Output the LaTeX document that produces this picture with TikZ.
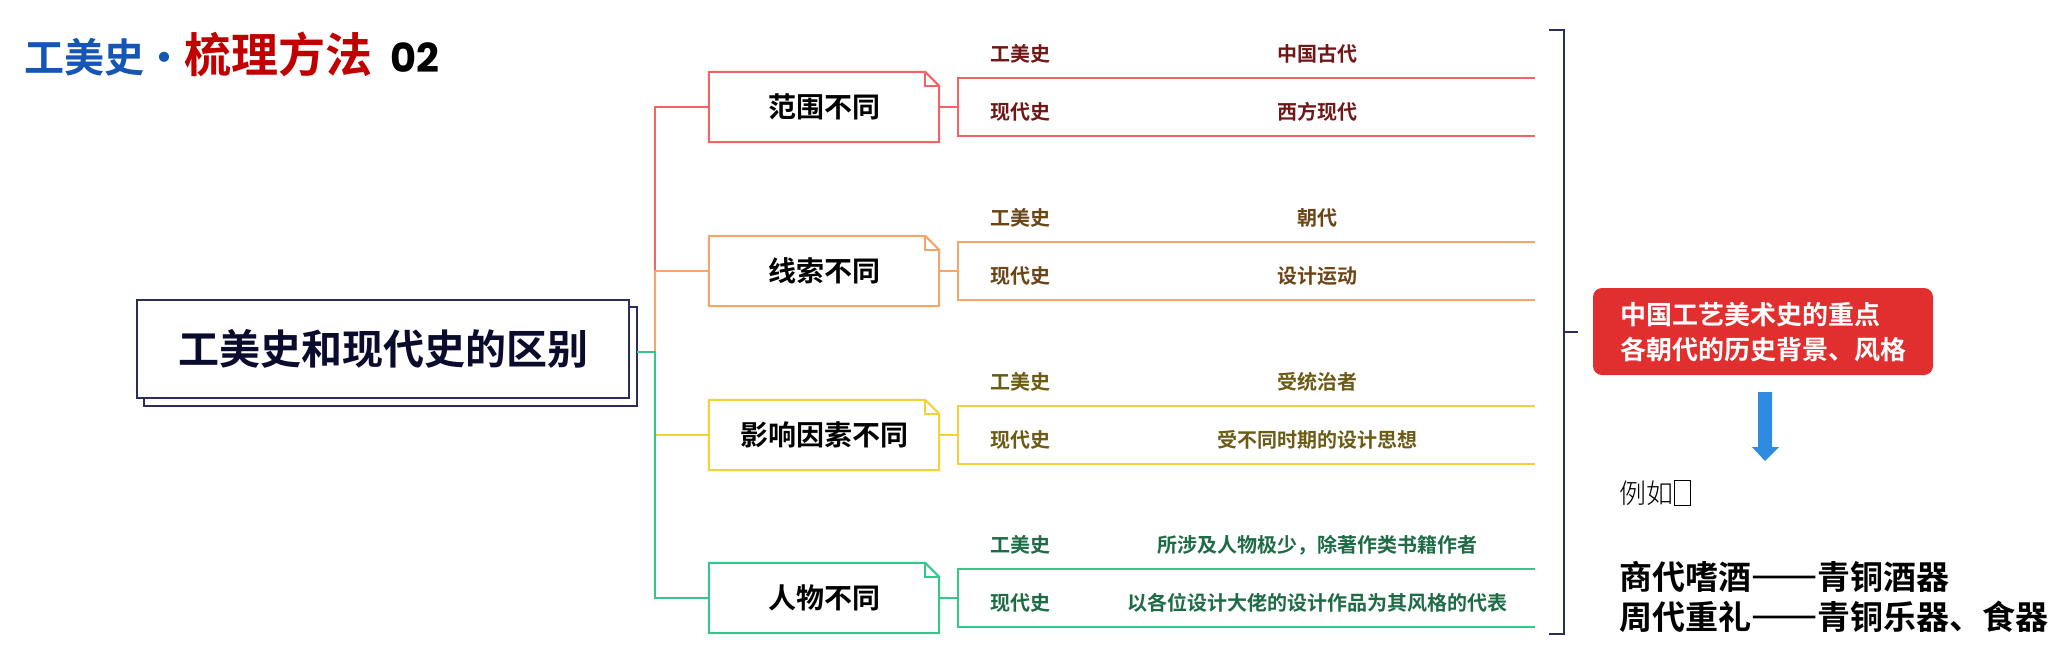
\documentclass[tikz,border=0pt]{standalone}
\usepackage{fontspec}
\setmainfont{Noto Sans CJK SC}[BoldFont={Noto Sans CJK SC Bold}]
\newfontfamily\cjklight{Noto Sans CJK SC Light}
\newfontfamily\numfont{Poppins}
\definecolor{tblue}{HTML}{1556B5}
\definecolor{tred}{HTML}{C00000}
\definecolor{navy}{HTML}{2B2E5C}
\definecolor{rootink}{HTML}{0B0B2E}
\definecolor{cA}{HTML}{F26464}
\definecolor{cB}{HTML}{F5A56A}
\definecolor{cC}{HTML}{F3D13A}
\definecolor{cD}{HTML}{33C78A}
\definecolor{tA}{HTML}{701818}
\definecolor{tB}{HTML}{6B4516}
\definecolor{tC}{HTML}{6B5B14}
\definecolor{tD}{HTML}{1E6B45}
\definecolor{kred}{HTML}{E12E2E}
\definecolor{ablue}{HTML}{2E8BE0}
\newcommand\fwdash{{\addfontfeatures{CharacterWidth=Full,FakeBold=4}——}}
\newcommand\dogear[2]{%
  \draw[#2, line width=2pt] (#1.north west) -- ([xshift=-14pt]#1.north east) -- ([yshift=-14pt]#1.north east) -- (#1.south east) -- (#1.south west) -- cycle;
  \draw[#2, line width=1.5pt] ([xshift=-14pt]#1.north east) -- ([xshift=-14pt,yshift=-14pt]#1.north east) -- ([yshift=-14pt]#1.north east);}
\begin{document}
\begin{tikzpicture}[x=1pt,y=-1pt,
  lvtwo/.style={minimum width=230pt, minimum height=70pt, inner sep=0pt, font=\fontsize{28}{32}\selectfont\bfseries, text=black},
  lab/.style={inner sep=0pt, font=\fontsize{20}{24}\selectfont\bfseries},
  wire/.style={line width=2pt}]
\useasboundingbox (0,0) rectangle (2071,659);

% title
\node[anchor=base west, inner sep=0pt, font=\bfseries] (title) at (24,72)
  {\textcolor{tblue}{\fontsize{40}{48}\selectfont 工美史・}\textcolor{tred}{\fontsize{47}{52}\selectfont 梳理方法}\hspace{18pt}{\numfont\bfseries\fontsize{40}{44}\selectfont 02}};

% root
\draw[navy, line width=2pt, fill=white] (144,307) rectangle (637,406);
\node[draw=navy, line width=2pt, fill=white, minimum width=492pt, minimum height=98pt, inner sep=0pt,
  font=\fontsize{41}{46}\selectfont\bfseries, text=rootink] (root) at (383,349) {工美史和现代史的区别};
\coordinate (rootout) at (637,352);
\coordinate (J) at (655,352);

% level 2 boxes
\node[lvtwo] (b1) at (824,107) {范围不同};
\node[lvtwo] (b2) at (824,271) {线索不同};
\node[lvtwo] (b3) at (824,435) {影响因素不同};
\node[lvtwo] (b4) at (824,598) {人物不同};

% trunk connectors
\draw[wire, cA] (rootout) -- (J) |- (b1.west);
\draw[wire, cB] (rootout) -- (J) |- (b2.west);
\draw[wire, cC] (rootout) -- (J) |- (b3.west);
\draw[wire, cD] (rootout) -- (J) |- (b4.west);

\dogear{b1}{cA}
\dogear{b2}{cB}
\dogear{b3}{cC}
\dogear{b4}{cD}

% level 3 brackets
\coordinate (k1) at (958,107);
\coordinate (k2) at (958,271);
\coordinate (k3) at (958,435);
\coordinate (k4) at (958,598);
\draw[wire, cA] (b1.east) -- (k1);
\draw[wire, cB] (b2.east) -- (k2);
\draw[wire, cC] (b3.east) -- (k3);
\draw[wire, cD] (b4.east) -- (k4);
\draw[wire, cA] (k1) ++(577,-29) -- ++(-577,0) -- ++(0,58) -- ++(577,0);
\draw[wire, cB] (k2) ++(577,-29) -- ++(-577,0) -- ++(0,58) -- ++(577,0);
\draw[wire, cC] (k3) ++(577,-29) -- ++(-577,0) -- ++(0,58) -- ++(577,0);
\draw[wire, cD] (k4) ++(577,-29) -- ++(-577,0) -- ++(0,58) -- ++(577,0);

% labels
\node[lab, text=tA] (g1a) at (1020,54) {工美史};
\node[lab, text=tA] (v1a) at (1317,54) {中国古代};
\node[lab, text=tA] (g1b) at (1020,112) {现代史};
\node[lab, text=tA] (v1b) at (1317,112) {西方现代};
\node[lab, text=tB] (g2a) at (1020,218) {工美史};
\node[lab, text=tB] (v2a) at (1317,218) {朝代};
\node[lab, text=tB] (g2b) at (1020,276) {现代史};
\node[lab, text=tB] (v2b) at (1317,276) {设计运动};
\node[lab, text=tC] (g3a) at (1020,382) {工美史};
\node[lab, text=tC] (v3a) at (1317,382) {受统治者};
\node[lab, text=tC] (g3b) at (1020,440) {现代史};
\node[lab, text=tC] (v3b) at (1317,440) {受不同时期的设计思想};
\node[lab, text=tD] (g4a) at (1020,545) {工美史};
\node[lab, text=tD] (v4a) at (1317,545) {所涉及人物极少，除著作类书籍作者};
\node[lab, text=tD] (g4b) at (1020,603) {现代史};
\node[lab, text=tD] (v4b) at (1317,603) {以各位设计大佬的设计作品为其风格的代表};

% right bracket
\coordinate (rtop) at (1549,30);
\coordinate (rbot) at (1549,634);
\coordinate (rmid) at (1578,332);
\draw[navy, line width=2pt] (rtop) -- (1564,30) -- (1564,634) -- (rbot);
\draw[navy, line width=2pt] (1564,332) -- (rmid);

% key box
\node[fill=kred, rounded corners=9pt, minimum width=340pt, minimum height=87pt, inner sep=0pt] (key) at (1763,331.5) {};
\node[anchor=west, inner sep=0pt, align=left, text=white, font=\fontsize{26}{35}\selectfont\bfseries] (keytxt) at (1620,332.5)
  {中国工艺美术史的重点\\各朝代的历史背景、风格};

% blue arrow
\fill[ablue] (1758,392) -- (1772,392) -- (1772,447) -- (1779,447) -- (1765,461) -- (1752,447) -- (1758,447) -- cycle;

% example
\node[anchor=west, inner sep=0pt, font=\cjklight\fontsize{27}{30}\selectfont] (eg) at (1619,493)
  {例如\hspace{1pt}{\fboxsep=0pt\fboxrule=0.8pt\raisebox{-2pt}{\fbox{\rule{0pt}{24pt}\hspace{15pt}}}}};
\node[anchor=west, inner sep=0pt, align=left, font=\fontsize{33}{40}\selectfont\bfseries] (ex) at (1619,597)
  {商代嗜酒\fwdash 青铜酒器\\周代重礼\fwdash 青铜乐器、食器};
\end{tikzpicture}
\end{document}
